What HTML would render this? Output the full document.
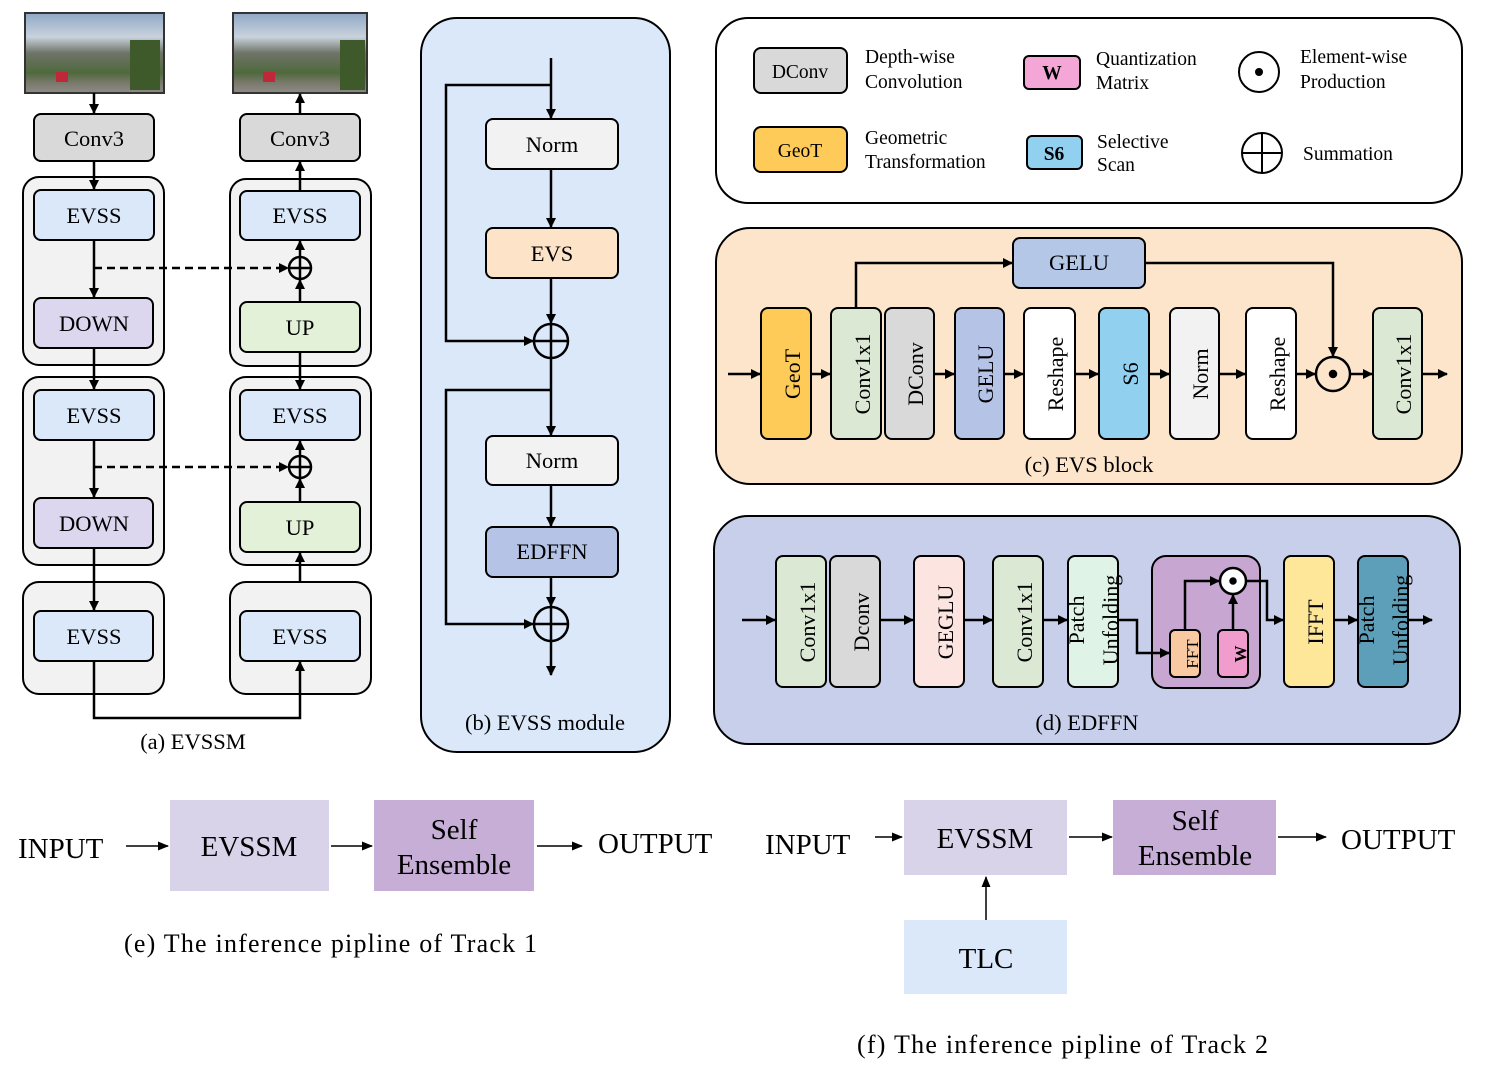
<!DOCTYPE html>
<html><head><meta charset="utf-8"><style>
html,body{margin:0;padding:0;background:#fff;}
svg{display:block;font-family:"Liberation Serif",serif;}
</style></head><body>
<svg width="1504" height="1078" viewBox="0 0 1504 1078" xmlns="http://www.w3.org/2000/svg">
<defs>
<marker id="a" markerWidth="10" markerHeight="10" refX="9" refY="5" orient="auto" markerUnits="userSpaceOnUse"><path d="M0,0 L10,5 L0,10 z" fill="#000"/></marker>
<marker id="s" markerWidth="11" markerHeight="9" refX="10" refY="4.5" orient="auto" markerUnits="userSpaceOnUse"><path d="M0,0 L11,4.5 L0,9 z" fill="#000"/></marker>
<linearGradient id="ph" x1="0" y1="0" x2="0" y2="1">
<stop offset="0" stop-color="#8fa8c4"/><stop offset="0.3" stop-color="#c9d2dc"/><stop offset="0.5" stop-color="#6f7468"/><stop offset="0.75" stop-color="#4f6a3c"/><stop offset="0.88" stop-color="#7c7a6e"/><stop offset="1" stop-color="#8d8b86"/></linearGradient>
</defs>
<g stroke="#000" stroke-width="2">
<rect x="25" y="13" width="139" height="80" fill="url(#ph)" stroke="#333"/>
<rect x="233" y="13" width="134" height="80" fill="url(#ph)" stroke="#333"/>
<rect x="130" y="40" width="30" height="50" fill="#3e5a2a" stroke="none"/><rect x="340" y="40" width="25" height="50" fill="#3e5a2a" stroke="none"/>
<rect x="56" y="72" width="12" height="10" fill="#c0283a" stroke="none"/><rect x="263" y="72" width="12" height="10" fill="#c0283a" stroke="none"/>
<rect x="23" y="177" width="141" height="188" rx="16" fill="#f2f2f2"/>
<rect x="230" y="179" width="141" height="187" rx="16" fill="#f2f2f2"/>
<rect x="23" y="377" width="141" height="188" rx="16" fill="#f2f2f2"/>
<rect x="230" y="377" width="141" height="188" rx="16" fill="#f2f2f2"/>
<rect x="23" y="582" width="141" height="112" rx="16" fill="#f2f2f2"/>
<rect x="230" y="582" width="141" height="112" rx="16" fill="#f2f2f2"/>
<rect x="34" y="114" width="120" height="47" rx="7" fill="#d9d9d9"/>
<rect x="240" y="114" width="120" height="47" rx="7" fill="#d9d9d9"/>
<rect x="34" y="190" width="120" height="50" rx="7" fill="#dae8fa"/>
<rect x="240" y="191" width="120" height="49" rx="7" fill="#dae8fa"/>
<rect x="34" y="298" width="119" height="50" rx="7" fill="#dcd6ee"/>
<rect x="240" y="302" width="120" height="50" rx="7" fill="#e3f1d9"/>
<rect x="34" y="390" width="120" height="50" rx="7" fill="#dae8fa"/>
<rect x="240" y="390" width="120" height="50" rx="7" fill="#dae8fa"/>
<rect x="34" y="498" width="119" height="50" rx="7" fill="#dcd6ee"/>
<rect x="240" y="502" width="120" height="50" rx="7" fill="#e3f1d9"/>
<rect x="34" y="611" width="119" height="50" rx="7" fill="#dae8fa"/>
<rect x="240" y="611" width="120" height="50" rx="7" fill="#dae8fa"/>
<g fill="none" stroke-width="2.5">
<path d="M94,93 V113" marker-end="url(#a)"/>
<path d="M94,161 V189" marker-end="url(#a)"/>
<path d="M94,240 V297" marker-end="url(#a)"/>
<path d="M94,348 V389" marker-end="url(#a)"/>
<path d="M94,440 V497" marker-end="url(#a)"/>
<path d="M94,548 V610" marker-end="url(#a)"/>
<path d="M300,113 V94" marker-end="url(#a)"/>
<path d="M300,191 V162" marker-end="url(#a)"/>
<path d="M300,257 V241" marker-end="url(#a)"/>
<path d="M300,302 V280" marker-end="url(#a)"/>
<path d="M300,352 V389" marker-end="url(#a)"/>
<path d="M300,456 V441" marker-end="url(#a)"/>
<path d="M300,502 V479" marker-end="url(#a)"/>
<path d="M300,582 V553" marker-end="url(#a)"/>
<path d="M94,661 V718 H300 V662" marker-end="url(#a)"/>
<path d="M94,268 H288" stroke-dasharray="8,5" marker-end="url(#a)"/>
<path d="M94,467 H288" stroke-dasharray="8,5" marker-end="url(#a)"/>
<circle cx="300" cy="268" r="11"/><path d="M289,268 H311 M300,257 V279"/>
<circle cx="300" cy="467" r="11"/><path d="M289,467 H311 M300,456 V478"/>
</g>
<rect x="421" y="18" width="249" height="734" rx="36" fill="#dae8fa"/>
<rect x="486" y="119" width="132" height="50" rx="7" fill="#f2f2f2"/>
<rect x="486" y="228" width="132" height="50" rx="7" fill="#fde3c8"/>
<rect x="486" y="436" width="132" height="49" rx="7" fill="#f2f2f2"/>
<rect x="486" y="527" width="132" height="50" rx="7" fill="#b4c3e6"/>
<g fill="none" stroke-width="2.5">
<path d="M551,58 V118" marker-end="url(#a)"/>
<path d="M551,169 V227" marker-end="url(#a)"/>
<path d="M551,278 V323" marker-end="url(#a)"/>
<path d="M551,358 V435" marker-end="url(#a)"/>
<path d="M551,485 V526" marker-end="url(#a)"/>
<path d="M551,577 V606" marker-end="url(#a)"/>
<path d="M551,641 V675" marker-end="url(#a)"/>
<path d="M551,85 H446 V341 H533" marker-end="url(#a)"/>
<path d="M551,390 H446 V624 H533" marker-end="url(#a)"/>
<circle cx="551" cy="341" r="17"/><path d="M534,341 H568 M551,324 V358"/>
<circle cx="551" cy="624" r="17"/><path d="M534,624 H568 M551,607 V641"/>
</g>
<rect x="716" y="18" width="746" height="185" rx="32" fill="#fff"/>
<rect x="754" y="48" width="93" height="45" rx="7" fill="#d9d9d9"/>
<rect x="1024" y="56" width="56" height="33" rx="5" fill="#f4a6d7"/>
<rect x="754" y="127" width="93" height="45" rx="7" fill="#fecb59"/>
<rect x="1027" y="136" width="55" height="33" rx="5" fill="#92d0f0"/>
<circle cx="1259" cy="72" r="20" fill="none"/><circle cx="1259" cy="72" r="3" fill="#000"/>
<circle cx="1262" cy="153" r="20" fill="none"/><path d="M1242,153 H1282 M1262,133 V173" fill="none"/>
<rect x="716" y="228" width="746" height="256" rx="34" fill="#fde5cb"/>
<rect x="1013" y="238" width="132" height="50" rx="7" fill="#b4c7e7"/>
<rect x="761" y="308" width="50" height="131" rx="7" fill="#fecb59"/>
<rect x="831" y="308" width="50" height="131" rx="7" fill="#dbe8d4"/>
<rect x="885" y="308" width="49" height="131" rx="7" fill="#d9d9d9"/>
<rect x="955" y="308" width="49" height="131" rx="7" fill="#b4c3e6"/>
<rect x="1024" y="308" width="51" height="131" rx="7" fill="#fff"/>
<rect x="1099" y="308" width="50" height="131" rx="7" fill="#92d0f0"/>
<rect x="1170" y="308" width="49" height="131" rx="7" fill="#f2f2f2"/>
<rect x="1246" y="308" width="50" height="131" rx="7" fill="#fff"/>
<rect x="1373" y="308" width="49" height="131" rx="7" fill="#dbe8d4"/>
<g fill="none" stroke-width="2.5">
<path d="M728,374 H760" marker-end="url(#a)"/>
<path d="M811,374 H830" marker-end="url(#a)"/>
<path d="M934,374 H954" marker-end="url(#a)"/>
<path d="M1004,374 H1023" marker-end="url(#a)"/>
<path d="M1075,374 H1098" marker-end="url(#a)"/>
<path d="M1149,374 H1169" marker-end="url(#a)"/>
<path d="M1219,374 H1245" marker-end="url(#a)"/>
<path d="M1296,374 H1315" marker-end="url(#a)"/>
<path d="M1350,374 H1372" marker-end="url(#a)"/>
<path d="M1422,374 H1447" marker-end="url(#a)"/>
<path d="M856,308 V263 H1012" marker-end="url(#a)"/>
<path d="M1145,263 H1333 V356" marker-end="url(#a)"/>
<circle cx="1333" cy="374" r="17"/><circle cx="1333" cy="374" r="3" fill="#000"/>
</g>
<rect x="714" y="516" width="746" height="228" rx="34" fill="#c8cfea"/>
<rect x="776" y="556" width="50" height="131" rx="7" fill="#dbe8d4"/>
<rect x="830" y="556" width="50" height="131" rx="7" fill="#d9d9d9"/>
<rect x="914" y="556" width="50" height="131" rx="7" fill="#fce4e0"/>
<rect x="993" y="556" width="50" height="131" rx="7" fill="#dbe8d4"/>
<rect x="1068" y="556" width="50" height="131" rx="7" fill="#dff3e6"/>
<rect x="1152" y="556" width="108" height="132" rx="14" fill="#c8a6d2"/>
<rect x="1170" y="630" width="30" height="47" rx="5" fill="#f9c9a1"/>
<rect x="1218" y="630" width="30" height="47" rx="5" fill="#f09ccc"/>
<rect x="1284" y="556" width="50" height="131" rx="7" fill="#fee799"/>
<rect x="1358" y="556" width="50" height="131" rx="7" fill="#5d9eb8"/>
<g fill="none" stroke-width="2.5">
<path d="M742,620 H775" marker-end="url(#a)"/>
<path d="M880,620 H913" marker-end="url(#a)"/>
<path d="M964,620 H992" marker-end="url(#a)"/>
<path d="M1043,620 H1067" marker-end="url(#a)"/>
<path d="M1118,620 H1137 V653 H1169" marker-end="url(#a)"/>
<path d="M1185,630 V581 H1219" marker-end="url(#a)"/>
<path d="M1233,630 V595" marker-end="url(#a)"/>
<path d="M1246,581 H1267 V620 H1283" marker-end="url(#a)"/>
<path d="M1334,620 H1357" marker-end="url(#a)"/>
<path d="M1408,620 H1432" marker-end="url(#a)"/>
<circle cx="1233" cy="581" r="13" fill="#fff"/><circle cx="1233" cy="581" r="2.5" fill="#000"/>
</g>
</g>
<rect x="170" y="800" width="159" height="91" fill="#d9d3ea"/>
<rect x="374" y="800" width="160" height="91" fill="#c6aed6"/>
<rect x="904" y="800" width="163" height="75" fill="#d9d3ea"/>
<rect x="1113" y="800" width="163" height="75" fill="#c6aed6"/>
<rect x="904" y="920" width="163" height="74" fill="#dae8fa"/>
<g stroke="#000" stroke-width="1.5" fill="none">
<path d="M126,846 H168" marker-end="url(#s)"/>
<path d="M331,846 H372" marker-end="url(#s)"/>
<path d="M537,846 H582" marker-end="url(#s)"/>
<path d="M875,837 H902" marker-end="url(#s)"/>
<path d="M1069,837 H1112" marker-end="url(#s)"/>
<path d="M1278,837 H1326" marker-end="url(#s)"/>
<path d="M986,920 V877" marker-end="url(#s)"/>
</g>
<g font-size="22.5" text-anchor="middle" fill="#000">
<text x="94" y="146">Conv3</text><text x="300" y="146">Conv3</text>
<text x="94" y="223">EVSS</text><text x="300" y="223">EVSS</text>
<text x="94" y="331">DOWN</text><text x="300" y="335">UP</text>
<text x="94" y="423">EVSS</text><text x="300" y="423">EVSS</text>
<text x="94" y="531">DOWN</text><text x="300" y="535">UP</text>
<text x="94" y="644">EVSS</text><text x="300" y="644">EVSS</text>
<text x="193" y="749">(a) EVSSM</text>
<text x="552" y="152">Norm</text><text x="552" y="261">EVS</text>
<text x="552" y="468">Norm</text><text x="552" y="559">EDFFN</text>
<text x="545" y="730">(b) EVSS module</text>
<text x="1079" y="270">GELU</text>
<text x="1089" y="472">(c) EVS block</text>
<text x="1087" y="730">(d) EDFFN</text>
</g>
<g font-size="19.5" fill="#000">
<text x="800" y="78" text-anchor="middle">DConv</text>
<text x="800" y="157" text-anchor="middle">GeoT</text>
<text x="1052" y="79" text-anchor="middle" font-weight="bold">W</text>
<text x="1054" y="160" text-anchor="middle" font-weight="bold">S6</text>
<text x="865" y="63">Depth-wise</text><text x="865" y="88">Convolution</text>
<text x="865" y="144">Geometric</text><text x="865" y="168">Transformation</text>
<text x="1096" y="65">Quantization</text><text x="1096" y="89">Matrix</text>
<text x="1097" y="148">Selective</text><text x="1097" y="171">Scan</text>
<text x="1300" y="63">Element-wise</text><text x="1300" y="88">Production</text>
<text x="1303" y="160">Summation</text>
</g>
<g font-size="22" text-anchor="middle" fill="#000">
<text transform="translate(793,374) rotate(-90)" y="7">GeoT</text>
<text transform="translate(863,374) rotate(-90)" y="7">Conv1x1</text>
<text transform="translate(916,374) rotate(-90)" y="7">DConv</text>
<text transform="translate(986,374) rotate(-90)" y="7">GELU</text>
<text transform="translate(1056,374) rotate(-90)" y="7">Reshape</text>
<text transform="translate(1131,374) rotate(-90)" y="7">S6</text>
<text transform="translate(1201,374) rotate(-90)" y="7">Norm</text>
<text transform="translate(1278,374) rotate(-90)" y="7">Reshape</text>
<text transform="translate(1404,374) rotate(-90)" y="7">Conv1x1</text>
<text transform="translate(808,622) rotate(-90)" y="7">Conv1x1</text>
<text transform="translate(862,622) rotate(-90)" y="7">Dconv</text>
<text transform="translate(946,622) rotate(-90)" y="7">GEGLU</text>
<text transform="translate(1025,622) rotate(-90)" y="7">Conv1x1</text>
<text transform="translate(1087,620) rotate(-90)" y="-3">Patch</text>
<text transform="translate(1111,620) rotate(-90)" y="7">Unfolding</text>
<text transform="translate(1316,622) rotate(-90)" y="7">IFFT</text>
<text transform="translate(1377,620) rotate(-90)" y="-3">Patch</text>
<text transform="translate(1401,620) rotate(-90)" y="7">Unfolding</text>
<text transform="translate(1192,654) rotate(-90)" y="6" font-size="17">FFT</text>
<text transform="translate(1240,654) rotate(-90)" y="6" font-size="17" font-weight="bold">W</text>
</g>
<g font-size="29" fill="#000">
<text x="18" y="858">INPUT</text>
<text x="249" y="856" text-anchor="middle">EVSSM</text>
<text x="454" y="839" text-anchor="middle">Self</text>
<text x="454" y="874" text-anchor="middle">Ensemble</text>
<text x="598" y="853">OUTPUT</text>
<text x="124" y="952" font-size="26" textLength="413" lengthAdjust="spacing">(e) The inference pipline of Track 1</text>
<text x="765" y="854">INPUT</text>
<text x="985" y="848" text-anchor="middle">EVSSM</text>
<text x="1195" y="830" text-anchor="middle">Self</text>
<text x="1195" y="865" text-anchor="middle">Ensemble</text>
<text x="1341" y="849">OUTPUT</text>
<text x="986" y="968" text-anchor="middle">TLC</text>
<text x="857" y="1053" font-size="26" textLength="411" lengthAdjust="spacing">(f) The inference pipline of Track 2</text>
</g>
</svg>
</body></html>
